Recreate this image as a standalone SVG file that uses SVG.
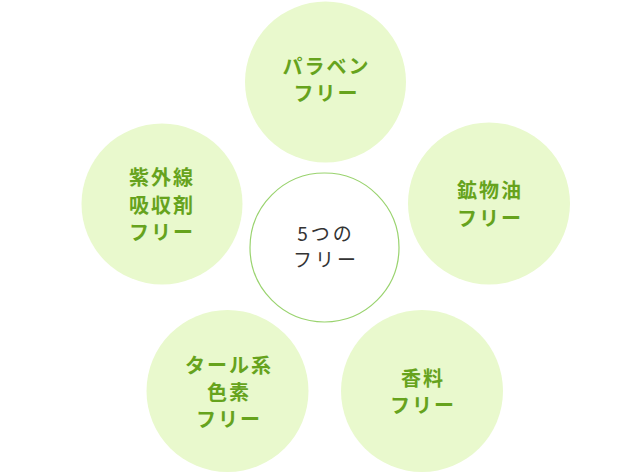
<svg xmlns="http://www.w3.org/2000/svg" width="640" height="472" viewBox="0 0 640 472">
<style>
.c{fill:#e9f9cd}
.t{font-family:"Noto Sans CJK JP","Noto Sans",sans-serif;font-size:20px;font-weight:700;fill:#66a31d;text-anchor:middle;letter-spacing:2px}
.m{font-family:"Noto Sans CJK JP","Noto Sans",sans-serif;font-size:19px;font-weight:400;fill:#333333;text-anchor:middle;letter-spacing:3px}
</style>
<rect width="640" height="472" fill="#ffffff"/>
<g id="connectors"></g>
<g id="node-paraben">
<circle class="c" cx="325.5" cy="82" r="80.5"/>
<text class="t" x="326.5" y="74">パラベン</text>
<text class="t" x="326.5" y="101">フリー</text>
</g>
<g id="node-uv">
<circle class="c" cx="162" cy="204" r="80.5"/>
<text class="t" x="162" y="185">紫外線</text>
<text class="t" x="162" y="213">吸収剤</text>
<text class="t" x="162" y="240">フリー</text>
</g>
<g id="node-mineral">
<circle class="c" cx="489" cy="203.5" r="81"/>
<text class="t" x="490" y="198">鉱物油</text>
<text class="t" x="490" y="226">フリー</text>
</g>
<g id="node-tar">
<circle class="c" cx="227.5" cy="391" r="81"/>
<text class="t" x="229" y="373">タール系</text>
<text class="t" x="229" y="400">色素</text>
<text class="t" x="229" y="427">フリー</text>
</g>
<g id="node-fragrance">
<circle class="c" cx="422" cy="391" r="81"/>
<text class="t" x="423" y="386">香料</text>
<text class="t" x="423" y="413">フリー</text>
</g>
<g id="node-center">
<circle cx="324.5" cy="247.5" r="74.5" fill="#ffffff" stroke="#9ad36f" stroke-width="1.2"/>
<text class="m" x="326" y="241">5つの</text>
<text class="m" x="326" y="267">フリー</text>
</g>
</svg>
